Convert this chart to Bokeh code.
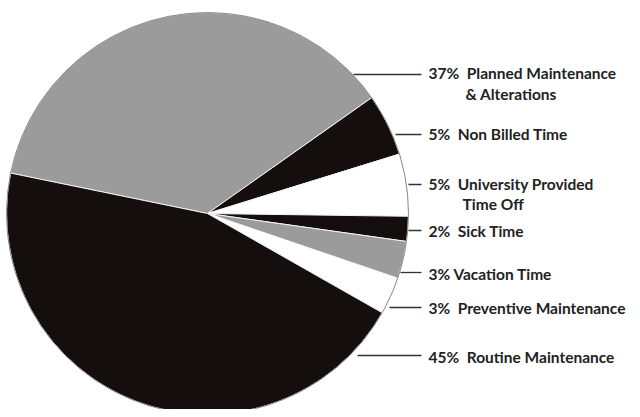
import math
from bokeh.plotting import figure
from bokeh.models import Range1d, ColumnDataSource
from bokeh.core.properties import value
from bokeh.embed import file_html
from bokeh.resources import INLINE

# ---- data ----
pcts = [37, 5, 5, 2, 3, 3, 45]
names = ["Planned Maintenance", "Non Billed Time", "University Provided", "Sick Time",
         "Vacation Time", "Preventive Maintenance", "Routine Maintenance"]
second_lines = ["& Alterations", "", "Time Off", "", "", "", ""]
colors = ["#9b9b9b", "#140e0e", "#ffffff", "#140e0e", "#9b9b9b", "#ffffff", "#140e0e"]

# ---- layout (screen px of the reference) ----
W, H = 632, 409
PAGE_H = 417
cx, cy_s, R = 207, 213, 201
start_deg = 168.4
label_y_s = [72, 133, 183, 230, 273, 307, 356]
line_y_s = [74, 134, 184, 230, 272, 307, 355]
line_x0 = [353, 395, 408, 408, 400, 389, 357]
sub_y_s = [93, None, 203, None, None, None, None]
sub_x = [465, None, 462, None, None, None, None]
seps = ["\u00a0 ", "\u00a0 ", "\u00a0 ", "\u00a0 ", " ", "\u00a0 ", "\u00a0 "]
text_x = 428
line_end = 421
FS = "15.5px"

def fy(ys):
    return PAGE_H - ys

cy = fy(cy_s)

p = figure(width=W, height=H, output_backend="svg", toolbar_location=None,
           x_range=Range1d(0, W), y_range=Range1d(PAGE_H - H, PAGE_H),
           min_border=0, outline_line_color=None, background_fill_color="white",
           border_fill_color="white")
p.axis.visible = False
p.grid.visible = False

# wedges, clockwise from start angle
total = sum(pcts)
starts, ends = [], []
a = start_deg
for v in pcts:
    sweep = v / total * 360.0
    ends.append(math.radians(a))
    starts.append(math.radians(a - sweep))
    a -= sweep
src = ColumnDataSource(dict(start=starts, end=ends, color=colors))
p.wedge(x=cx, y=cy, radius=R, start_angle="start", end_angle="end",
        fill_color="color", line_color="#f4f4f4", line_width=1, source=src)
p.circle(x=[cx], y=[cy], radius=R, fill_color=None, line_color="#8a8a8a", line_width=1)

# leader lines
p.segment(x0=line_x0, y0=[fy(v) for v in line_y_s], x1=[line_end] * len(line_y_s),
          y1=[fy(v) for v in line_y_s], line_color="#333333", line_width=1.3)

labels = [f"{v}%{s}{n}" for v, s, n in zip(pcts, seps, names)]
p.text(x=[text_x] * len(labels), y=[fy(v) for v in label_y_s], text=labels,
       text_font=value("Lato"), text_font_style="bold", text_font_size=FS,
       text_color="#222222", text_baseline="middle", text_align="left")
sx = [x for x, s in zip(sub_x, second_lines) if s]
sy = [fy(y) for y, s in zip(sub_y_s, second_lines) if s]
st = [s for s in second_lines if s]
p.text(x=sx, y=sy, text=st,
       text_font=value("Lato"), text_font_style="bold", text_font_size=FS,
       text_color="#222222", text_baseline="middle", text_align="left")

open("out.html", "w").write(file_html(p, INLINE))
